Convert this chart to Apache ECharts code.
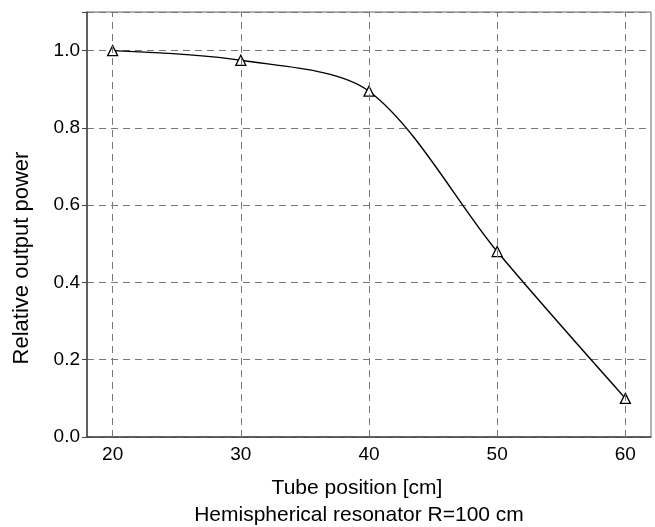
<!DOCTYPE html>
<html>
<head>
<meta charset="utf-8">
<script src="https://cdn.jsdelivr.net/npm/echarts@6/dist/echarts.min.js"></script>
<style>html,body{margin:0;padding:0;background:#fff}#c{width:655px;height:527px}</style>
</head>
<body>
<div id="c"></div>
<script>
var tubePosition = [20, 30, 40, 50, 60];
var relativePower = [1.0, 0.975, 0.895, 0.48, 0.1];
var xTicks = [20, 30, 40, 50, 60];
var yTicks = ['0.0', '0.2', '0.4', '0.6', '0.8', '1.0'];
var xTitle = 'Tube position [cm]';
var yTitle = 'Relative output power';
var subTitle = 'Hemispherical resonator R=100 cm';

var chart = echarts.init(document.getElementById('c'), null, {renderer: 'canvas'});
var font = 'Liberation Sans, Arial, sans-serif';
var dash = {color: '#777', type: [7, 5], width: 1};
chart.setOption({
  backgroundColor: '#fff',
  animation: false,
  grid: {left: 87, right: 4, top: 12, bottom: 90, show: true, borderColor: '#666', borderWidth: 1},
  xAxis: {
    type: 'value', min: 18, max: 62,
    axisLine: {show: true, onZero: false, lineStyle: {color: '#444', width: 1.5}},
    axisTick: {show: false},
    splitLine: {show: false},
    axisLabel: {
      color: '#000', fontSize: 19, fontFamily: font, margin: 8,
      customValues: xTicks,
      formatter: function (v) { return String(v); }
    }
  },
  yAxis: {
    type: 'value', min: 0, max: 1.1, interval: 0.2,
    axisLine: {show: true, lineStyle: {color: '#444', width: 1.5}},
    axisTick: {show: true, length: 5, lineStyle: {color: '#444'}},
    splitLine: {show: true, lineStyle: dash},
    axisLabel: {
      color: '#000', fontSize: 19, fontFamily: font, margin: 7,
      formatter: function (v) { var i = Math.round(v / 0.2); return yTicks[i] !== undefined && Math.abs(v - i * 0.2) < 1e-6 ? yTicks[i] : ''; }
    }
  },
  graphic: [
    {type: 'text', x: 357, y: 488, style: {text: xTitle, fill: '#000', font: '21px ' + font, align: 'center', verticalAlign: 'middle'}},
    {type: 'text', x: 359, y: 515, style: {text: subTitle, fill: '#000', font: '21px ' + font, align: 'center', verticalAlign: 'middle'}},
    {type: 'text', x: 22, y: 258, rotation: Math.PI / 2, style: {text: yTitle, fill: '#000', font: '22px ' + font, align: 'center', verticalAlign: 'middle'}}
  ],
  series: [{
    type: 'line',
    data: tubePosition.map(function (x, i) { return [x, relativePower[i]]; }),
    smooth: 0.3,
    symbol: 'triangle', symbolSize: 10,
    itemStyle: {color: '#fff', borderColor: '#000', borderWidth: 1.3},
    lineStyle: {color: '#000', width: 1.4},
    z: 3,
    markLine: {
      silent: true, symbol: 'none', label: {show: false},
      lineStyle: dash,
      data: xTicks.map(function (v) { return {xAxis: v}; })
    }
  }]
});
</script>
</body>
</html>
